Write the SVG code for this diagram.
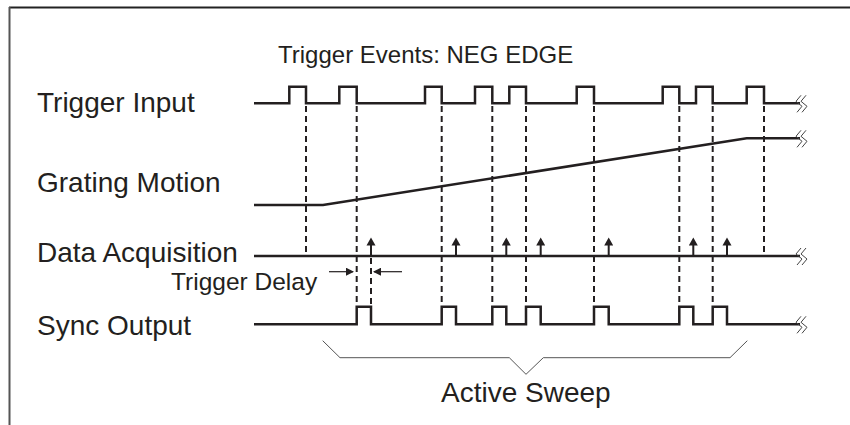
<svg xmlns="http://www.w3.org/2000/svg" width="850" height="425" viewBox="0 0 850 425">
<style>
.lbl{font-family:"Liberation Sans",Arial,Helvetica,sans-serif;fill:#231f20}
.wave{fill:none;stroke:#231f20;stroke-width:2.5;stroke-linejoin:miter}
.dash{fill:none;stroke:#231f20;stroke-width:2;stroke-dasharray:6,4}
.brk{fill:none;stroke:#444;stroke-width:1}
.thin{fill:none;stroke:#231f20;stroke-width:1.2}
</style>
<defs>
<marker id="ah" markerWidth="8" markerHeight="8" refX="7" refY="4" orient="auto" markerUnits="userSpaceOnUse">
<path d="M0,0 L8,4 L0,8 Z" fill="#231f20"/>
</marker>
<symbol id="brkS" overflow="visible">
<path class="brk" d="M5,-8 L0,-2 L6,3 L1,9"/>
<path class="brk" d="M10,-8 L5,-2 L11,3 L6,9"/>
</symbol>
<path id="up" d="M0,0 V-13" />
</defs>
<rect width="850" height="425" fill="#fff"/>
<g id="frame">
<line x1="9" y1="7.5" x2="850" y2="7.5" stroke="#222" stroke-width="2"/>
<line x1="9.5" y1="7" x2="9.5" y2="425" stroke="#555" stroke-width="2"/>
</g>
<text class="lbl" x="278" y="63" font-size="24">Trigger Events: NEG EDGE</text>
<g id="trigger-input">
<text class="lbl" x="37" y="112" font-size="28">Trigger Input</text>
<path class="wave" d="M254,103.3 H289.3 V86.7 H306 V103.3 H339.3 V86.7 H356.7 V103.3 H425 V86.7 H441.7 V103.3 H475 V86.7 H492.3 V103.3 H509.3 V86.7 H526 V103.3 H576.7 V86.7 H594 V103.3 H662.7 V86.7 H679.3 V103.3 H696 V86.7 H712.7 V103.3 H746.7 V86.7 H764 V103.3 H800"/>
<use href="#brkS" x="796" y="103.3"/>
</g>
<g id="grating-motion">
<text class="lbl" x="37" y="192" font-size="28">Grating Motion</text>
<path class="wave" d="M254,205 H323 L746.7,138.3 H800"/>
<use href="#brkS" x="796" y="138.3"/>
</g>
<g id="data-acquisition">
<text class="lbl" x="37" y="262" font-size="28">Data Acquisition</text>
<path class="wave" d="M254,256 H800"/>
<use href="#brkS" x="796" y="256"/>
<g fill="#231f20" stroke="#231f20">
<path stroke-width="2" d="M371,256 V244 M456,256 V244 M506.3,256 V244 M540.7,256 V244 M608.7,256 V244 M693.3,256 V244 M727,256 V244"/>
<path stroke="none" d="M371,237.5 l-4.5,8 h9 Z M456,237.5 l-4.5,8 h9 Z M506.3,237.5 l-4.5,8 h9 Z M540.7,237.5 l-4.5,8 h9 Z M608.7,237.5 l-4.5,8 h9 Z M693.3,237.5 l-4.5,8 h9 Z M727,237.5 l-4.5,8 h9 Z"/>
</g>
</g>
<g id="sync-output">
<text class="lbl" x="37" y="335" font-size="28">Sync Output</text>
<path class="wave" d="M254,324.3 H356.7 V306.7 H371 V324.3 H441.7 V306.7 H456 V324.3 H492.3 V306.7 H506.3 V324.3 H526 V306.7 H540.7 V324.3 H594 V306.7 H608.7 V324.3 H679.3 V306.7 H693.3 V324.3 H712.7 V306.7 H727 V324.3 H800"/>
<use href="#brkS" x="796" y="324.3"/>
</g>
<g id="connectors">
<path class="dash" d="M306,106 V255 M764,106 V255 M356.7,106 V306 M441.7,106 V306 M492.3,106 V306 M526,106 V306 M594,106 V306 M679.3,106 V306 M712.7,106 V306 M371,258 V306"/>
</g>
<g id="trigger-delay">
<text class="lbl" x="171" y="290" font-size="24.5">Trigger Delay</text>
<line class="thin" x1="329" y1="271.7" x2="353" y2="271.7" marker-end="url(#ah)"/>
<line class="thin" x1="402" y1="271.7" x2="374" y2="271.7" marker-end="url(#ah)"/>
</g>
<g id="active-sweep">
<polyline fill="none" stroke="#555" stroke-width="1" points="322.7,340.7 340,357.7 509.3,357.7 526,374.3 543.3,357.7 730,357.7 747.3,340.7"/>
<text class="lbl" x="441" y="401.5" font-size="28">Active Sweep</text>
</g>
</svg>
